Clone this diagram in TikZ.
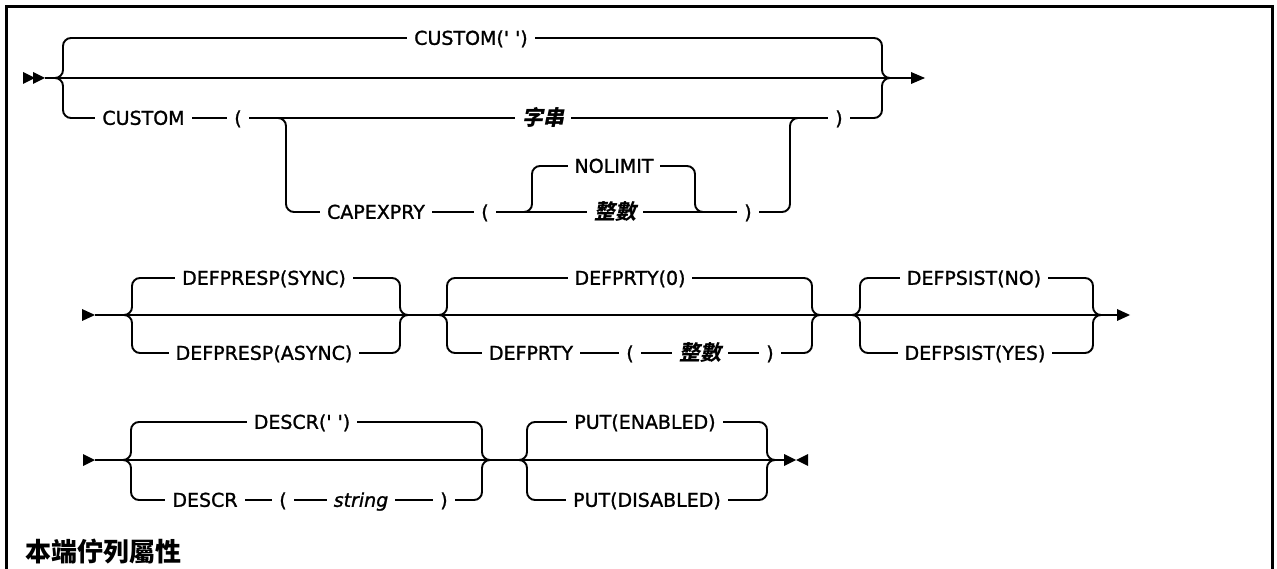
\documentclass[tikz,border=0pt]{standalone}
\usepackage{fontspec}
\setmainfont{DejaVu Sans}
\newfontfamily\railfont{DejaVu Sans}[FakeBold=1.2]
\newfontfamily\cjk{Noto Sans CJK TC}
\newfontfamily\cjksl{Noto Sans CJK TC}[FakeSlant=0.2]
\begin{document}
\begin{tikzpicture}[x=1pt,y=-1pt,
  rail/.style={line width=1.9pt, rounded corners=8pt},
  lbl/.style={fill=white, inner xsep=7pt, inner ysep=1pt, anchor=base,
    font=\railfont\fontsize{19}{22}\selectfont},
  var/.style={lbl, font=\cjksl\bfseries\fontsize{21}{24}\selectfont},
  tip/.style={fill=black}]
\useasboundingbox (0,0) rectangle (1277,569);
% frame
\draw[line width=3pt] (6.5,575) -- (6.5,6.5) -- (1272.5,6.5) -- (1272.5,575);

% ---------- row 1 ----------
\coordinate (r1s) at (45,78);
\coordinate (r1e) at (912,78);
\fill[tip] (23,72) -- (35,78) -- (23,84) -- cycle;
\fill[tip] (33,72) -- (45,78) -- (33,84) -- cycle;
\draw[rail] (r1s) -- (r1e);
\fill[tip] (911,72) -- (925,78) -- (911,84) -- cycle;
\draw[rail] (55,78) -| (63,38) -| (882,78) -- (890,78);
\draw[rail] (55,78) -| (63,118) -| (882,78) -- (890,78);
\draw[rail] (278,118) -| (286,212) -| (790,118) -- (798,118);
\draw[rail] (524,212) -| (532,166) -| (695,212) -- (703,212);

\node[lbl] (c1) at (471,44.8) {CUSTOM(' ')};
\node[lbl] (c2) at (143.5,124.8) {CUSTOM};
\node[lbl] (c3) at (238,124.8) {(};
\node[var] (c4) at (543,125.5) {字串};
\node[lbl] (c5) at (839,124.8) {)};
\node[lbl] (c6) at (376,218.8) {CAPEXPRY};
\node[lbl] (c7) at (485,218.8) {(};
\node[lbl] (c8) at (614,172.8) {NOLIMIT};
\node[var] (c9) at (615,219.5) {整數};
\node[lbl] (c10) at (748,218.8) {)};

% ---------- row 2 ----------
\coordinate (r2s) at (95,315);
\coordinate (r2e) at (1118,315);
\fill[tip] (82,309) -- (95,315) -- (82,321) -- cycle;
\draw[rail] (r2s) -- (r2e);
\fill[tip] (1117,309) -- (1130,315) -- (1117,321) -- cycle;
\draw[rail] (124,315) -| (132,278) -| (400,315) -- (408,315);
\draw[rail] (124,315) -| (132,353) -| (400,315) -- (408,315);
\draw[rail] (439,315) -| (447,278) -| (812,315) -- (820,315);
\draw[rail] (439,315) -| (447,353) -| (812,315) -- (820,315);
\draw[rail] (852,315) -| (860,278) -| (1093,315) -- (1101,315);
\draw[rail] (852,315) -| (860,353) -| (1093,315) -- (1101,315);

\node[lbl] (d1) at (264,284.8) {DEFPRESP(SYNC)};
\node[lbl] (d2) at (264,359.8) {DEFPRESP(ASYNC)};
\node[lbl] (d3) at (630,284.8) {DEFPRTY(0)};
\node[lbl] (d4) at (531,359.8) {DEFPRTY};
\node[lbl] (d5) at (630,359.8) {(};
\node[var] (d6) at (700,360.5) {整數};
\node[lbl] (d7) at (770,359.8) {)};
\node[lbl] (d8) at (974,284.8) {DEFPSIST(NO)};
\node[lbl] (d9) at (975,359.8) {DEFPSIST(YES)};

% ---------- row 3 ----------
\coordinate (r3s) at (95,460);
\coordinate (r3e) at (784,460);
\fill[tip] (83,454) -- (95,460) -- (83,466) -- cycle;
\draw[rail] (r3s) -- (r3e);
\fill[tip] (784,454) -- (796,460) -- (784,466) -- cycle;
\fill[tip] (808,454) -- (796,460) -- (808,466) -- cycle;
\draw[rail] (123,460) -| (131,422) -| (482,460) -- (490,460);
\draw[rail] (123,460) -| (131,500) -| (482,460) -- (490,460);
\draw[rail] (519,460) -| (527,422) -| (767,460) -- (775,460);
\draw[rail] (519,460) -| (527,500) -| (767,460) -- (775,460);

\node[lbl] (e1) at (302,428.8) {DESCR(' ')};
\node[lbl] (e2) at (205,506.8) {DESCR};
\node[lbl] (e3) at (283,506.8) {(};
\node[lbl] (e4) at (361,506.8) {\itshape string};
\node[lbl] (e5) at (444,506.8) {)};
\node[lbl] (e6) at (645,428.8) {PUT(ENABLED)};
\node[lbl] (e7) at (647,506.8) {PUT(DISABLED)};

\node[anchor=base west, inner sep=0pt, font=\cjk\bfseries\fontsize{26}{30}\selectfont] (title) at (25,561) {本端佇列屬性};
\end{tikzpicture}
\end{document}
